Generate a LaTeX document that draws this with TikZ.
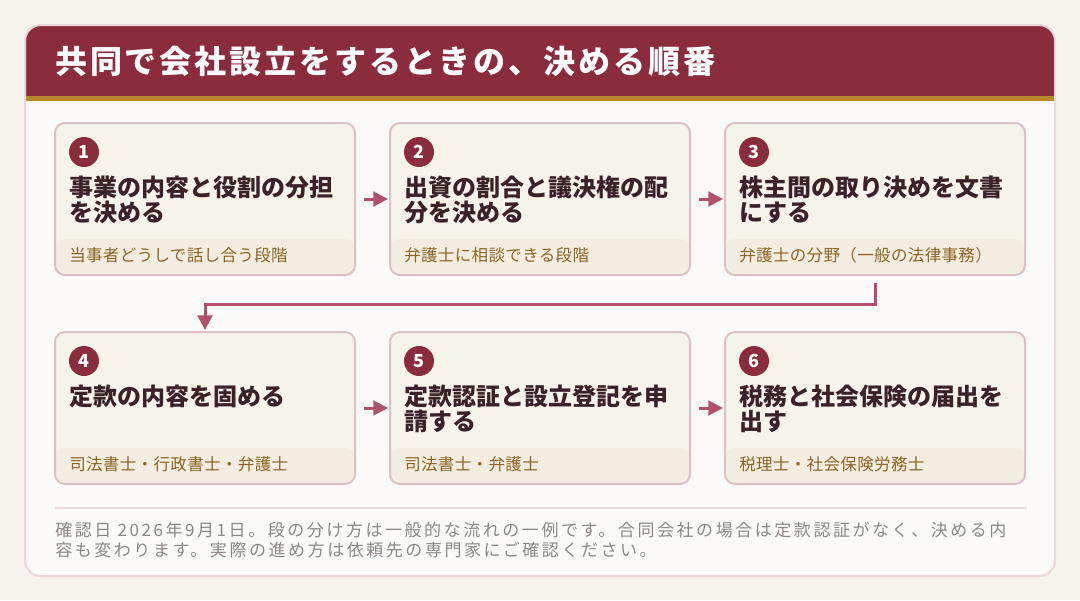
\documentclass[tikz,border=0pt]{standalone}
\usepackage{fontspec}
\setmainfont{Noto Sans CJK JP}
\newfontfamily\headfont[LetterSpace=9]{Noto Sans CJK JP}
\newfontfamily\cardfont{Noto Sans CJK JP}
\newfontfamily\subfont[LetterSpace=2]{Noto Sans CJK JP}
\newfontfamily\notefont[LetterSpace=15]{Noto Sans CJK JP}
\usetikzlibrary{arrows.meta}
\definecolor{bgc}{HTML}{F5F3EE}
\definecolor{panelfill}{HTML}{FBFAF8}
\definecolor{panelline}{HTML}{EAD7DA}
\definecolor{headc}{HTML}{8A2C3D}
\definecolor{goldc}{HTML}{B8872D}
\definecolor{cardfill}{HTML}{F6F3EA}
\definecolor{bandfill}{HTML}{F2EDE0}
\definecolor{cardline}{HTML}{DCC0C5}
\definecolor{arrowc}{HTML}{B0506A}
\definecolor{titletext}{HTML}{3A2228}
\definecolor{subtext}{HTML}{8B6424}
\definecolor{notec}{HTML}{8E8587}
\definecolor{sepc}{HTML}{ECDADD}
\tikzset{
  card/.style={draw=cardline, line width=1.5pt, fill=cardfill, rounded corners=7.5pt,
    minimum width=225pt, minimum height=114pt, inner sep=0pt,
    path picture={\fill[bandfill] (path picture bounding box.south west) rectangle ([yshift=27pt]path picture bounding box.south east);}},
  num/.style={circle, fill=headc, text=white, inner sep=0pt, minimum size=22.5pt,
    font=\bfseries\fontsize{13.5pt}{15pt}\selectfont},
  ctitle/.style={anchor=north west, inner sep=0pt, align=left, text=titletext,
    font=\cardfont\bfseries\fontsize{18pt}{18.75pt}\selectfont},
  csub/.style={anchor=base west, inner sep=0pt, text=subtext,
    font=\subfont\fontsize{12.4pt}{14pt}\selectfont},
  arr/.style={draw=arrowc, line width=2.25pt, -{Triangle[length=11pt,width=11pt]},
    shorten >=0.75pt}
}
\newcommand{\tstrut}{\rule{0pt}{15.8pt}}
\begin{document}
\begin{tikzpicture}[x=0.75pt,y=-0.75pt]
\fill[bgc] (0,0) rectangle (1080,600);
\useasboundingbox (0,0) rectangle (1080,600);
% panel
\fill[panelfill, rounded corners=12pt] (25,25) rectangle (1055,576);
\begin{scope}
  \clip[rounded corners=12pt] (25,25) rectangle (1055,576);
  \fill[headc] (25,25) rectangle (1055,96);
  \fill[goldc] (25,96) rectangle (1055,101);
\end{scope}
\draw[panelline, line width=1.5pt, rounded corners=12pt] (25,25) rectangle (1055,576);
\node[anchor=base west, inner sep=0pt, text=white,
  font=\headfont\bfseries\fontsize{24pt}{28pt}\selectfont] (title) at (55,73)
  {共同で会社設立をするときの、決める順番};
% cards
\node[card] (c1) at (205,199) {};
\node[card] (c2) at (540,199) {};
\node[card] (c3) at (875,199) {};
\node[card] (c4) at (205,408) {};
\node[card] (c5) at (540,408) {};
\node[card] (c6) at (875,408) {};
% numbers
\node[num] (n1) at (84,152) {1};
\node[num] (n2) at (419,152) {2};
\node[num] (n3) at (754,152) {3};
\node[num] (n4) at (84,361) {4};
\node[num] (n5) at (419,361) {5};
\node[num] (n6) at (754,361) {6};
% titles
\node[ctitle] (t1) at (69,175.5) {\tstrut 事業の内容と役割の分担\\を決める};
\node[ctitle] (t2) at (404,175.5) {\tstrut 出資の割合と議決権の配\\分を決める};
\node[ctitle] (t3) at (739,175.5) {\tstrut 株主間の取り決めを文書\\にする};
\node[ctitle] (t4) at (69,384.5) {\tstrut 定款の内容を固める};
\node[ctitle] (t5) at (404,384.5) {\tstrut 定款認証と設立登記を申\\請する};
\node[ctitle] (t6) at (739,384.5) {\tstrut 税務と社会保険の届出を\\出す};
% subtitles
\node[csub] (s1) at (69,261) {当事者どうしで話し合う段階};
\node[csub] (s2) at (404,261) {弁護士に相談できる段階};
\node[csub] (s3) at (739,261) {弁護士の分野（一般の法律事務）};
\node[csub] (s4) at (69,470) {司法書士・行政書士・弁護士};
\node[csub] (s5) at (404,470) {司法書士・弁護士};
\node[csub] (s6) at (739,470) {税理士・社会保険労務士};
% connectors
\draw[arr, shorten <=6pt] (c1) -- (c2);
\draw[arr, shorten <=6pt] (c2) -- (c3);
\draw[arr, shorten <=5pt] (c3.south) -- ++(0,28) -| (c4.north);
\draw[arr, shorten <=6pt] (c4) -- (c5);
\draw[arr, shorten <=6pt] (c5) -- (c6);
% footer
\draw[sepc, line width=1pt] (55,508) -- (1027,508);
\node[anchor=north west, inner sep=0pt, align=left, text=notec,
  font=\notefont\fontsize{12.75pt}{15pt}\selectfont] (note) at (55,521)
  {\rule{0pt}{11.2pt}確認日 2026年9月1日。段の分け方は一般的な流れの一例です。合同会社の場合は定款認証がなく、決める内\\容も変わります。実際の進め方は依頼先の専門家にご確認ください。};
\end{tikzpicture}
\end{document}
